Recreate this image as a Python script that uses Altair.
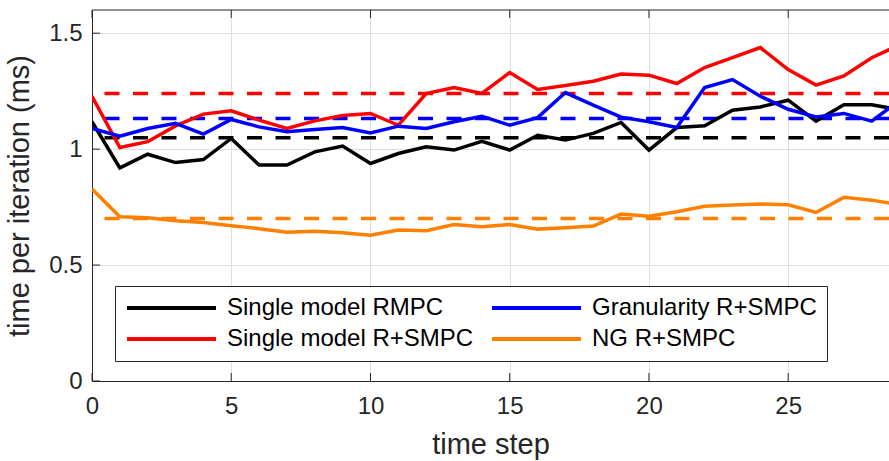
import altair as alt
import pandas as pd

# ---------------- data ----------------
steps = list(range(30))
single_rmpc = [1.118, 0.919, 0.978, 0.942, 0.955, 1.046, 0.931, 0.931, 0.988, 1.013,
               0.938, 0.981, 1.010, 0.996, 1.034, 0.996, 1.060, 1.039, 1.068, 1.115,
               0.996, 1.093, 1.101, 1.168, 1.182, 1.211, 1.121, 1.191, 1.191, 1.170]
single_rsmpc = [1.228, 1.007, 1.032, 1.100, 1.151, 1.165, 1.125, 1.089, 1.122, 1.145,
                1.154, 1.103, 1.240, 1.266, 1.240, 1.330, 1.257, 1.274, 1.293, 1.324,
                1.319, 1.283, 1.352, 1.395, 1.438, 1.343, 1.276, 1.316, 1.394, 1.450]
gran_rsmpc = [1.089, 1.056, 1.089, 1.111, 1.065, 1.128, 1.096, 1.075, 1.085, 1.093,
              1.070, 1.099, 1.089, 1.118, 1.142, 1.103, 1.136, 1.244, 1.190, 1.138,
              1.118, 1.093, 1.266, 1.300, 1.228, 1.172, 1.139, 1.154, 1.121, 1.210]
ng_rsmpc = [0.828, 0.708, 0.704, 0.691, 0.684, 0.670, 0.657, 0.642, 0.646, 0.639,
            0.629, 0.651, 0.648, 0.675, 0.665, 0.675, 0.655, 0.661, 0.668, 0.720,
            0.711, 0.730, 0.754, 0.759, 0.763, 0.760, 0.727, 0.792, 0.780, 0.760]

series_names = ["Single model RMPC", "Single model R+SMPC", "Granularity R+SMPC", "NG R+SMPC"]
mean_values = [1.049, 1.240, 1.132, 0.701]
x_ticks = [0, 5, 10, 15, 20, 25]
y_ticks = [0, 0.5, 1, 1.5]

# ---------------- styles ----------------
palette = {"Single model RMPC": "#000000", "Single model R+SMPC": "#ff0000",
           "Granularity R+SMPC": "#0000ff", "NG R+SMPC": "#ff8000"}
FONT = "Liberation Sans"
AX = "#262626"
W, H = 797, 371

rows = []
for name, vals in zip(series_names, [single_rmpc, single_rsmpc, gran_rsmpc, ng_rsmpc]):
    for s, v in zip(steps, vals):
        rows.append({"series": name, "step": s, "t": v})
df = pd.DataFrame(rows)

xscale = alt.Scale(domain=[0, 28.62], nice=False, zero=False)
yscale = alt.Scale(domain=[0, 1.6], nice=False, zero=False)

x_axis = alt.Axis(values=x_ticks, format="d", title="time step", grid=True, ticks=False,
                  labelPadding=13, titlePadding=12, labelFontSize=24, titleFontSize=29,
                  labelFont=FONT, titleFont=FONT, labelColor=AX, titleColor=AX,
                  titleFontWeight="normal", domainColor=AX, domainWidth=1,
                  gridColor="#dfdfdf", gridWidth=1, labelFlush=False)
y_axis = alt.Axis(values=y_ticks, format="~g", title="time per iteration (ms)", grid=True,
                  ticks=False, labelPadding=10, titlePadding=14, labelFontSize=24,
                  titleFontSize=29, labelFont=FONT, titleFont=FONT, labelColor=AX,
                  titleColor=AX, titleFontWeight="normal", domainColor=AX, domainWidth=1,
                  gridColor="#dfdfdf", gridWidth=1, labelFlush=False)

X = alt.X("step:Q", scale=xscale, axis=x_axis)
Y = alt.Y("t:Q", scale=yscale, axis=y_axis)

layers = []

# mean (dashed) lines
for name, m in zip(series_names, mean_values):
    layers.append(
        alt.Chart(pd.DataFrame({"t": [m]}))
        .mark_rule(color=palette[name], strokeWidth=3.5, strokeDash=[15, 13.5])
        .encode(y=Y)
    )

# solid lines
lines = alt.Chart(df).mark_line(strokeWidth=3.5, clip=True).encode(
    x=X,
    y=Y,
    color=alt.Color(
        "series:N",
        scale=alt.Scale(domain=series_names, range=[palette[n] for n in series_names]),
        legend=alt.Legend(
            title=None, orient="none", legendX=23, legendY=276, columns=2,
            symbolType="stroke", symbolSize=7921, symbolStrokeWidth=4, clipHeight=24,
            labelFontSize=24, labelFont=FONT, labelColor="#000000", labelLimit=500,
            strokeColor=AX, fillColor="#ffffff", padding=10, rowPadding=7,
            columnPadding=16, labelOffset=9,
        ),
    ),
    detail="series:N",
)
layers.append(lines)

# inward tick marks (MATLAB style)
xt = pd.DataFrame({"step": x_ticks})
yt = pd.DataFrame({"t": y_ticks})
layers.append(alt.Chart(xt).mark_rule(color=AX, strokeWidth=1).encode(
    x=X, y=alt.value(H), y2=alt.value(H - 8)))
layers.append(alt.Chart(xt).mark_rule(color=AX, strokeWidth=1).encode(
    x=X, y=alt.value(0), y2=alt.value(8)))
layers.append(alt.Chart(yt).mark_rule(color=AX, strokeWidth=1).encode(
    y=Y, x=alt.value(0), x2=alt.value(8)))

# top box edge
layers.append(alt.Chart(pd.DataFrame({"a": [0]})).mark_rule(color=AX, strokeWidth=1).encode(
    x=alt.value(0), x2=alt.value(W), y=alt.value(0)))

chart = (
    alt.layer(*layers)
    .properties(width=W, height=H, autosize=alt.AutoSizeParams(type="none"),
                padding={"left": 92, "top": 10, "right": 0, "bottom": 80},
                background="white")
    .configure_view(stroke=None)
)

chart.save("out.html", embed_options={"renderer": "svg", "actions": False})
